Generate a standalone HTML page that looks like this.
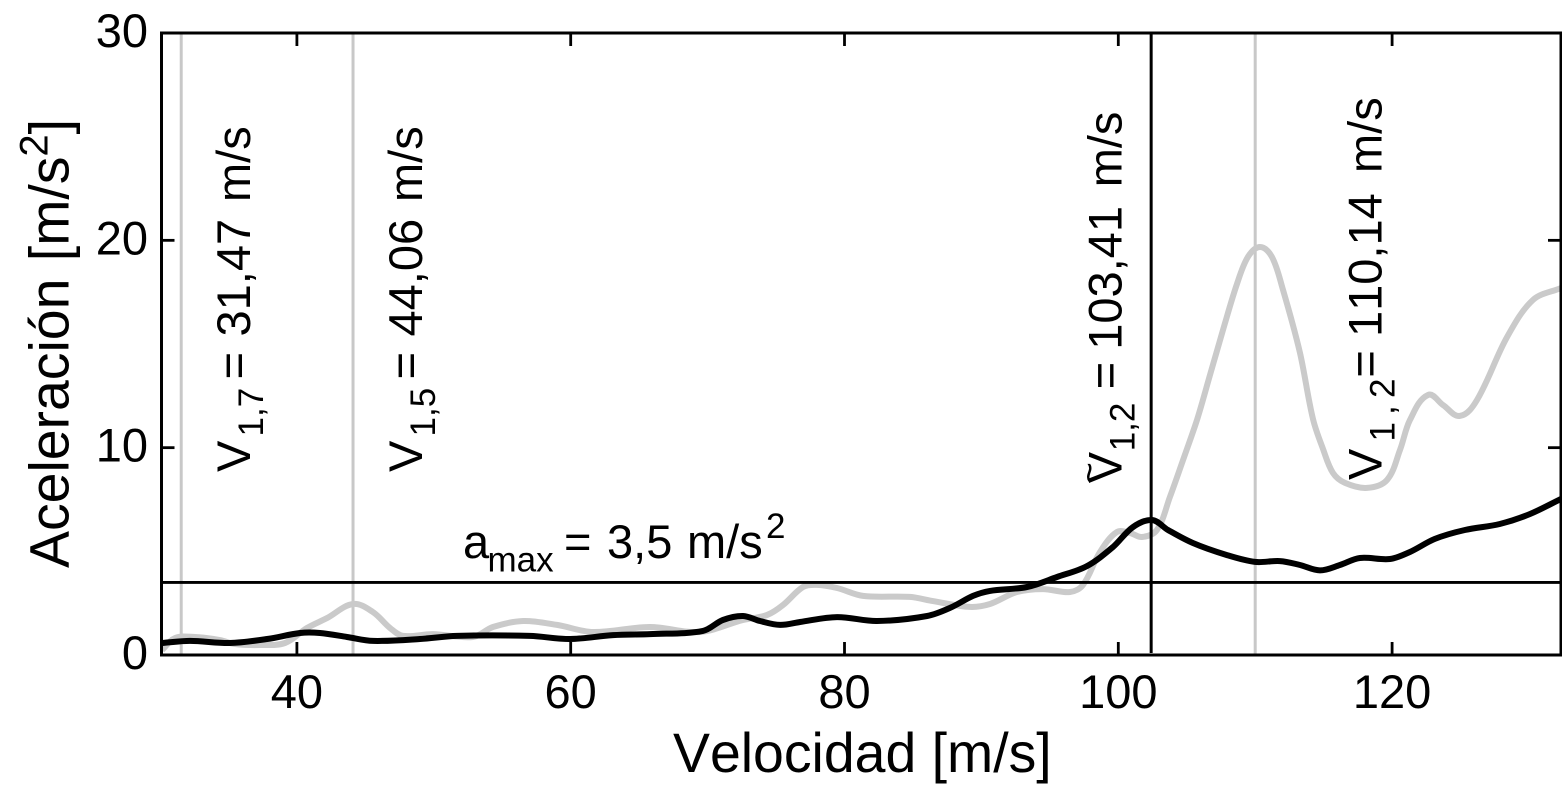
<!DOCTYPE html>
<html lang="es">
<head>
<meta charset="utf-8">
<title>Aceleración vs Velocidad</title>
<style>
html,body{margin:0;padding:0;background:#fff;width:1562px;height:785px;overflow:hidden}
svg{display:block}
text{font-family:"Liberation Sans",Arial,sans-serif;fill:#000;font-kerning:none}
.lbl{font-size:47px}
.sub{font-size:35px}
.title{font-size:55.4px}
</style>
</head>
<body>
<svg id="chart" width="1562" height="785" viewBox="0 0 1562 785" xmlns="http://www.w3.org/2000/svg">
  <g id="marks"></g>
  <g id="axes"></g>

  <text class="title" x="673" y="772">Velocidad [m/s]</text>
  <text class="title" transform="translate(68.5,568) rotate(-90)">Aceleración <tspan dx="2">[m/s</tspan><tspan font-size="40" dy="-21">2</tspan><tspan dy="21">]</tspan></text>

  <text class="lbl" y="558">
    <tspan x="463" y="558">a</tspan><tspan class="sub" x="487.5" y="571.5">max</tspan><tspan x="564" y="558">=</tspan><tspan x="607" y="558">3,5</tspan><tspan x="687" y="558">m/s</tspan><tspan class="sub" x="766" y="538">2</tspan>
  </text>

  <text class="lbl" transform="translate(250,472) rotate(-90)"><tspan x="0" y="0">V</tspan><tspan class="sub" x="35.5" y="13">1,7</tspan><tspan x="92.7" y="0">=</tspan><tspan x="135.5" y="0">31,47</tspan><tspan x="270" y="0">m/s</tspan></text>
  <text class="lbl" transform="translate(422,472) rotate(-90)"><tspan x="0" y="0">V</tspan><tspan class="sub" x="35.5" y="13">1,5</tspan><tspan x="92.7" y="0">=</tspan><tspan x="135.5" y="0">44,06</tspan><tspan x="270" y="0">m/s</tspan></text>
  <text class="lbl" transform="translate(1121.7,483.3) rotate(-90)"><tspan x="0" y="0">V</tspan><tspan font-size="36" x="0" y="-20">~</tspan><tspan class="sub" x="32" y="13">1,2</tspan><tspan x="94" y="0">=</tspan><tspan x="133.5" y="0">103,41</tspan><tspan x="296" y="0">m/s</tspan></text>
  <text class="lbl" transform="translate(1381.7,480) rotate(-90)"><tspan x="0" y="0">V</tspan><tspan class="sub" x="38.5 65 82" y="13">1,2</tspan><tspan x="102.4" y="0">=</tspan><tspan x="143" y="0">110,14</tspan><tspan x="307" y="0">m/s</tspan></text>
</svg>
<script>
// Chart data
const grayV = [30.15,31.10,32.56,34.38,35.48,37.30,39.13,40.74,42.20,44.10,45.56,46.80,47.75,49.94,52.86,54.32,56.52,59.00,61.63,65.79,69.44,72.59,74.34,75.51,76.97,77.99,79.45,81.35,84.78,86.46,89.17,90.63,92.60,94.50,96.47,97.42,98.66,99.90,100.85,101.73,102.82,103.77,104.73,105.75,106.70,107.65,108.67,109.47,110.35,111.22,112.03,113.27,114.22,114.95,115.68,116.56,118.17,119.63,120.58,121.31,122.62,123.72,124.96,126.20,128.40,130.30,132.34];
const grayA = [0.24,0.82,0.87,0.72,0.53,0.48,0.58,1.30,1.78,2.46,2.07,1.30,0.92,1.01,0.87,1.35,1.64,1.45,1.11,1.35,1.11,1.69,1.93,2.41,3.28,3.38,3.23,2.85,2.80,2.60,2.32,2.46,3.04,3.18,3.04,3.38,4.97,5.93,5.89,5.69,6.03,7.62,9.41,11.34,13.51,15.68,17.90,19.20,19.68,19.20,17.61,14.57,11.38,9.94,8.78,8.30,8.06,8.44,9.89,11.34,12.54,12.06,11.53,12.30,15.34,17.13,17.70];
const blackV = [30.15,32.19,35.11,37.82,40.23,41.69,43.66,45.56,48.99,51.69,57.02,59.95,63.09,65.79,69.66,71.12,72.59,73.83,75.29,76.75,79.45,82.37,86.03,87.71,89.39,90.63,93.33,95.52,97.71,99.61,101.07,102.46,103.63,105.45,107.94,109.99,111.81,113.27,114.73,116.19,117.65,119.84,121.30,123.13,125.32,127.87,130.07,132.34];
const blackA = [0.58,0.68,0.58,0.77,1.06,1.06,0.87,0.68,0.77,0.92,0.92,0.77,0.96,1.01,1.16,1.69,1.88,1.64,1.45,1.59,1.83,1.64,1.88,2.27,2.85,3.09,3.28,3.76,4.29,5.21,6.17,6.51,6.03,5.40,4.82,4.49,4.53,4.34,4.08,4.34,4.68,4.63,4.97,5.60,6.03,6.32,6.80,7.53];
const grayMarkers = [31.55,44.1,110.0];
const blackMarkers = [102.4];
const amax = [3.5];
const xTicks = [40,60,80,100,120];
const yTicks = [0,10,20,30];

const NS = 'http://www.w3.org/2000/svg';
const L = 161.5, R = 1561, T = 33, B = 655;
const xScale = v => 296.9 + (v - 40) * 13.69;
const yScale = a => B - a * (B - T) / 30;
const marks = document.getElementById('marks');
const axes = document.getElementById('axes');

function mk(parent, tag, attrs) {
  const el = document.createElementNS(NS, tag);
  for (const k in attrs) el.setAttribute(k, attrs[k]);
  parent.appendChild(el);
  return el;
}

function smoothPath(xs, ys) {
  const p = xs.map((v, i) => [xScale(v), yScale(ys[i])]);
  const dist = (a, b) => Math.hypot(a[0] - b[0], a[1] - b[1]) || 1;
  // chord-weighted tangents keep unevenly spaced readings free of kinks
  const tan = i => {
    const a = p[Math.max(i - 1, 0)], b = p[Math.min(i + 1, p.length - 1)];
    const len = dist(a, b);
    return [(b[0] - a[0]) / len, (b[1] - a[1]) / len];
  };
  let d = 'M' + p[0][0].toFixed(1) + ' ' + p[0][1].toFixed(1);
  for (let i = 0; i < p.length - 1; i++) {
    const seg = dist(p[i], p[i + 1]) / 3;
    const t1 = tan(i), t2 = tan(i + 1);
    d += 'C' + (p[i][0] + t1[0] * seg).toFixed(1) + ' ' + (p[i][1] + t1[1] * seg).toFixed(1) + ' ' +
         (p[i + 1][0] - t2[0] * seg).toFixed(1) + ' ' + (p[i + 1][1] - t2[1] * seg).toFixed(1) + ' ' +
         p[i + 1][0].toFixed(1) + ' ' + p[i + 1][1].toFixed(1);
  }
  return d;
}

// gray resonance markers
grayMarkers.forEach(v => {
  const ln = mk(marks, 'line', {x1: xScale(v), x2: xScale(v), y1: T, y2: B, stroke: '#c8c8c8', 'stroke-width': 3});
  
  
});

// gray series
const grayLine = mk(marks, 'path', {d: smoothPath(grayV, grayA), fill: 'none', stroke: '#cacaca', 'stroke-width': 6, 'stroke-linejoin': 'round'});



// amax line
amax.forEach(a => {
  const ln = mk(marks, 'line', {x1: L, x2: R, y1: yScale(a), y2: yScale(a), stroke: '#000', 'stroke-width': 2.8});
  
  
});

// black marker
blackMarkers.forEach(v => {
  const ln = mk(marks, 'line', {x1: xScale(v), x2: xScale(v), y1: T, y2: B - 2, stroke: '#000', 'stroke-width': 3});
  
  
});

// black series
const blackLine = mk(marks, 'path', {d: smoothPath(blackV, blackA), fill: 'none', stroke: '#000', 'stroke-width': 6, 'stroke-linejoin': 'round'});



// frame
const frame = mk(axes, 'rect', {x: L, y: T, width: R - L, height: B - T, fill: 'none', stroke: '#000', 'stroke-width': 3});



// ticks and labels
const TL = 13;
xTicks.forEach(t => {
  const x = xScale(t);
  const tb = mk(axes, 'line', {x1: x, x2: x, y1: B, y2: B - TL, stroke: '#000', 'stroke-width': 2.8});
  
  
  const tt = mk(axes, 'line', {x1: x, x2: x, y1: T, y2: T + TL, stroke: '#000', 'stroke-width': 2.8});
  
  
  const lb = mk(axes, 'text', {x: x, y: 708, 'text-anchor': 'middle', class: 'lbl'});
  
  
  lb.textContent = t;
});
yTicks.forEach(t => {
  const y = yScale(t);
  if (t > 0 && t < 30) {
    const tl = mk(axes, 'line', {x1: L, x2: L + TL, y1: y, y2: y, stroke: '#000', 'stroke-width': 2.8});
    
    
    const tr = mk(axes, 'line', {x1: R, x2: R - TL, y1: y, y2: y, stroke: '#000', 'stroke-width': 2.8});
    
    
  }
  const lb = mk(axes, 'text', {x: 148, y: y + 14, 'text-anchor': 'end', class: 'lbl'});
  
  
  lb.textContent = t;
});
</script>
</body>
</html>
